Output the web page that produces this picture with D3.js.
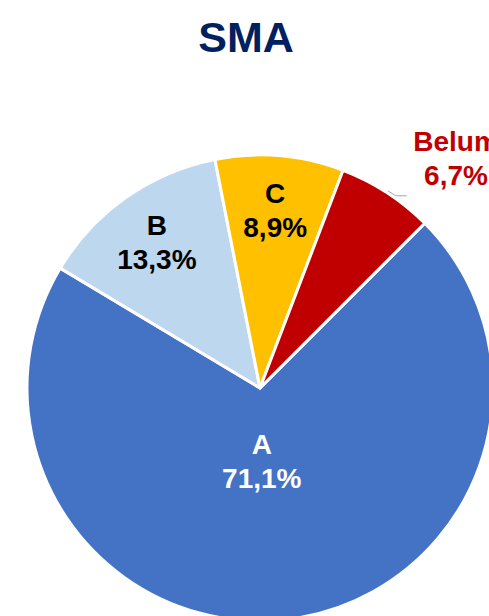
<!DOCTYPE html>
<html>
<head>
<meta charset="utf-8">
<script src="https://cdn.jsdelivr.net/npm/d3@7"></script>
<style>
  body { margin: 0; background: #fff; }
  svg { display: block; font-family: "Liberation Sans", Arial, sans-serif; }
</style>
</head>
<body>
<svg width="489" height="616"></svg>
<script>
// chart data
var categories = ['A', 'B', 'C', 'Belum'];
var values = [71.1, 13.3, 8.9, 6.7];
var labels = ['71,1%', '13,3%', '8,9%', '6,7%'];
var colors = ['#4472C4', '#BDD7EE', '#FFC000', '#C00000'];
var textColors = ['#ffffff', '#000000', '#000000', '#C00000'];

var svg = d3.select('svg');
var cx = 260, cy = 388, R = 233;

svg.append('text')
  .attr('x', 246)
  .attr('y', 52)
  .attr('text-anchor', 'middle')
  .attr('font-size', 43)
  .attr('font-weight', 'bold')
  .attr('fill', '#002060')
  .text('SMA');

var start = 45 * Math.PI / 180;
var pie = d3.pie().sort(null).value(function(d) { return d.value; })
  .startAngle(start).endAngle(start + 2 * Math.PI);

var data = categories.map(function(c, i) {
  return { name: c, value: values[i], label: labels[i], color: colors[i], text: textColors[i], outside: i === 3 };
});
var arcs = pie(data);

var g = svg.append('g').attr('transform', 'translate(' + cx + ',' + cy + ')');
var arc = d3.arc().innerRadius(0).outerRadius(R);

g.selectAll('path.slice').data(arcs).enter()
  .append('path')
  .attr('class', 'slice')
  .attr('d', arc)
  .attr('fill', function(d) { return d.data.color; })
  .attr('stroke', '#fff')
  .attr('stroke-width', 3)
  .attr('stroke-linejoin', 'round');

var labelPos = function(d) {
  var mid = (d.startAngle + d.endAngle) / 2;
  var r = d.data.value > 50 ? 0.31 * R : 0.77 * R;
  return [r * Math.sin(mid), -r * Math.cos(mid)];
};

// leader line for the outside label
arcs.filter(function(d) { return d.data.outside; }).forEach(function(d) {
  var mid = (d.startAngle + d.endAngle) / 2;
  var p0 = [(R + 2) * Math.sin(mid), -(R + 2) * Math.cos(mid)];
  var p1 = [p0[0] + 8, p0[1] + 5];
  var p2 = [p1[0] + 11, p1[1]];
  g.append('polyline')
    .attr('points', [p0, p1, p2].map(function(p) { return p.join(','); }).join(' '))
    .attr('fill', 'none')
    .attr('stroke', '#a6a6a6')
    .attr('stroke-width', 1);
});

var lbl = g.selectAll('text.lbl').data(arcs).enter()
  .append('text')
  .attr('class', 'lbl')
  .attr('text-anchor', 'middle')
  .attr('font-size', 28)
  .attr('font-weight', 'bold')
  .attr('fill', function(d) { return d.data.text; })
  .attr('transform', function(d) {
    if (d.data.outside) return 'translate(' + (456 - cx) + ',' + (151 - cy) + ')';
    var p = labelPos(d);
    return 'translate(' + (p[0] - (d.data.value > 50 ? 7 : 0)) + ',' + (p[1] - 6) + ')';
  });

lbl.append('tspan').attr('x', 0).attr('dy', 0).text(function(d) { return d.data.name; });
lbl.append('tspan').attr('x', 0).attr('dy', 34).text(function(d) { return d.data.label; });
</script>
</body>
</html>
